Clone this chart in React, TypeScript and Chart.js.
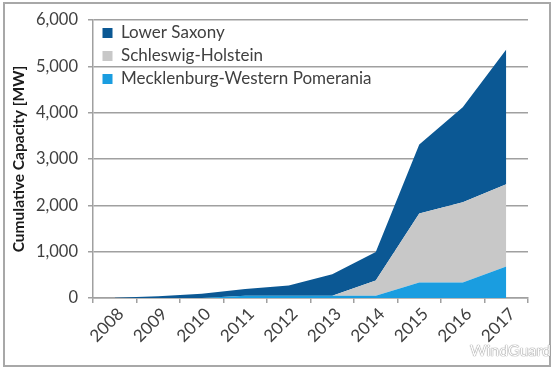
import React, { useEffect, useRef } from "react";
import { Chart, registerables } from "chart.js";

Chart.register(...registerables);

const years = ["2008", "2009", "2010", "2011", "2012", "2013", "2014", "2015", "2016", "2017"];
const mecklenburg = [0, 0, 0, 48, 48, 48, 48, 336, 336, 680];
const schleswigHolstein = [0, 0, 0, 0, 0, 0, 332, 1489, 1732, 1775];
const lowerSaxony = [3, 40, 90, 145, 222, 464, 615, 1485, 2047, 2905];
const yMin = 0;
const yMax = 6000;
const yStep = 1000;

const FONT = "Lato, 'Noto Sans', sans-serif";

export default function App() {
  const ref = useRef<HTMLCanvasElement | null>(null);

  useEffect(() => {
    if (!ref.current) return;
    const legendShift = {
      id: "legendShift",
      afterLayout(chart: any) {
        const lg = chart.legend;
        if (lg) {
          const h = lg.bottom - lg.top;
          const w = lg.right - lg.left;
          lg.left = chart.chartArea.left + 3.5;
          lg.right = lg.left + w;
          lg.top = chart.chartArea.top - 1.5;
          lg.bottom = lg.top + h;
        }
      },
    };
    const chart = new Chart(ref.current, {
      type: "line",
      data: {
        labels: years,
        datasets: [
          {
            label: "Mecklenburg-Western Pomerania",
            data: mecklenburg,
            backgroundColor: "#1a9de0",
            borderColor: "#1a9de0",
            borderWidth: 0,
            pointRadius: 0,
            fill: "origin",
            tension: 0,
          },
          {
            label: "Schleswig-Holstein",
            data: schleswigHolstein,
            backgroundColor: "#c8c8c8",
            borderColor: "#c8c8c8",
            borderWidth: 0,
            pointRadius: 0,
            fill: "-1",
            tension: 0,
          },
          {
            label: "Lower Saxony",
            data: lowerSaxony,
            backgroundColor: "#0b5894",
            borderColor: "#0b5894",
            borderWidth: 0,
            pointRadius: 0,
            fill: "-1",
            tension: 0,
          },
        ],
      },
      options: {
        responsive: false,
        animation: false,
        devicePixelRatio: 1,
        layout: { padding: { left: 0, top: 19, right: 26, bottom: 0 } },
        plugins: {
          tooltip: { enabled: false },
          legend: {
            position: "chartArea",
            align: "start",
            reverse: true,
            labels: {
              boxWidth: 10,
              boxHeight: 10,
              padding: 6,
              color: "#404040",
              font: { family: FONT, size: 17 },
            },
          },
        },
        scales: {
          x: {
            type: "category",
            offset: true,
            afterFit(scale: any) {
              scale.height = 74;
            },
            grid: {
              offset: true,
              drawOnChartArea: false,
              drawTicks: true,
              tickLength: 5,
              color: "#a0a0a0",
              lineWidth: 1.5,
            },
            border: { display: true, color: "#a0a0a0", width: 1.5 },
            ticks: {
              minRotation: 45,
              maxRotation: 45,
              autoSkip: false,
              padding: 1,
              labelOffset: 6,
              color: "#404040",
              font: { family: FONT, size: 17 },
            },
          },
          y: {
            stacked: true,
            min: yMin,
            max: yMax,
            afterFit(scale: any) {
              scale.width = 93;
            },
            grid: {
              color: "#a0a0a0",
              lineWidth: 1.5,
              tickLength: 5,
              drawTicks: true,
            },
            border: { display: true, color: "#a0a0a0", width: 1.5 },
            ticks: {
              stepSize: yStep,
              padding: 10,
              color: "#404040",
              font: { family: FONT, size: 16.5 },
              callback: (v: any) => Number(v).toLocaleString("en-US"),
            },
            title: {
              display: true,
              text: "Cumulative Capacity [MW]",
              color: "#1a1a1a",
              font: { family: FONT, size: 15.5, weight: "bold" },
              padding: { top: 10, bottom: 0 },
            },
          },
        },
      },
      plugins: [legendShift],
    } as any);
    return () => chart.destroy();
  }, []);

  return (
    <div
      style={{
        position: "absolute",
        left: 0,
        top: 0,
        width: 554,
        height: 372,
        background: "#ffffff",
        overflow: "hidden",
      }}
    >
      <div
        style={{
          position: "absolute",
          left: 3,
          top: 2,
          width: 544,
          height: 361,
          border: "2px solid #a8a8a8",
        }}
      />
      <canvas ref={ref} width={554} height={372} style={{ position: "absolute", left: 0, top: 0 }} />
      <div
        style={{
          position: "absolute",
          left: 470,
          top: 340,
          fontFamily: FONT,
          fontSize: 16,
          color: "#ffffff",
          textShadow: "0 0 1px #777, 0 0 1px #777",
          letterSpacing: 0,
        }}
      >
        WindGuard
      </div>
    </div>
  );
}
